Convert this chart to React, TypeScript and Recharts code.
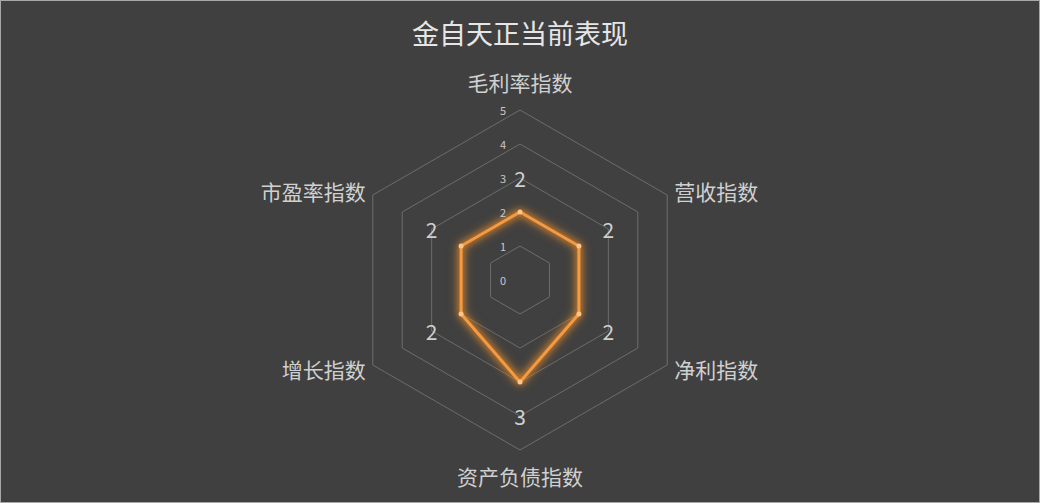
import React from "react";
import { RadarChart, Radar, PolarGrid, PolarAngleAxis, PolarRadiusAxis } from "recharts";

const indicators = ["毛利率指数", "营收指数", "净利指数", "资产负债指数", "增长指数", "市盈率指数"];
const scores = [2, 2, 2, 3, 2, 2];
const radiusTicks = [0, 1, 2, 3, 4, 5];
const title = "金自天正当前表现";

const data = indicators.map((name, i) => ({ name, value: scores[i] }));

const W = 1040;
const H = 503;
const CX = 520;
const CY = 280;
const R = 170;
const FONT = '"Noto Sans CJK SC", "Noto Sans", sans-serif';

const AngleTick = (props: any) => {
  const { x, y, payload, textAnchor } = props;
  let yy = y;
  const dx = x - CX;
  if (Math.abs(dx) < 2) {
    yy = y < CY ? y - 20 : y + 18;
  }
  return (
    <text
      x={x}
      y={yy}
      textAnchor={Math.abs(dx) < 2 ? "middle" : textAnchor}
      dominantBaseline="central"
      fill="#d0d0d0"
      fontSize={21}
      fontFamily={FONT}
    >
      {payload.value}
    </text>
  );
};

const RadiusTick = (props: any) => {
  const { x, y, payload } = props;
  return (
    <text
      x={x - 17}
      y={y}
      textAnchor="middle"
      dominantBaseline="central"
      fill="#c8c8c8"
      fontSize={11}
      fontFamily={FONT}
    >
      {payload.value}
    </text>
  );
};

const ValueLabel = (props: any) => {
  const { x, y, value } = props;
  const vx = x - CX;
  const vy = y - CY;
  const len = Math.sqrt(vx * vx + vy * vy) || 1;
  const lx = x + (vx / len) * 34;
  const ly = y + (vy / len) * 34;
  return (
    <text
      x={lx}
      y={ly}
      textAnchor="middle"
      dominantBaseline="central"
      fill="#d0d0d0"
      fontSize={21}
      fontFamily={FONT}
    >
      {value}
    </text>
  );
};

const RadarDot = (props: any) => {
  const { cx, cy } = props;
  return <circle cx={cx} cy={cy} r={2.5} fill="#ffc48a" stroke="none" />;
};

export default function App() {
  return (
    <div
      style={{
        position: "fixed",
        left: 0,
        top: 0,
        width: W,
        height: H,
        background: "#404040",
        boxSizing: "border-box",
        border: "1px solid #a8a8a8",
        overflow: "hidden",
      }}
    >
      <style>{`
        .recharts-radar-polygon { filter: drop-shadow(0 0 3px rgba(245,145,40,1)) drop-shadow(0 0 5px rgba(245,145,40,0.7)); }
      `}</style>
      <div
        style={{
          position: "absolute",
          left: 0,
          top: 14,
          width: W - 2,
          textAlign: "center",
          color: "#e6e6e6",
          fontSize: 27,
          lineHeight: "36px",
          fontFamily: FONT,
        }}
      >
        {title}
      </div>
      <div style={{ position: "absolute", left: -1, top: -1 }}>
        <RadarChart
          width={W}
          height={H}
          data={data}
          cx={CX}
          cy={CY}
          outerRadius={R}
          margin={{ top: 0, right: 0, bottom: 0, left: 0 }}
        >
          <PolarGrid gridType="polygon" radialLines={false} stroke="#6c6c6c" strokeWidth={1} />
          <PolarAngleAxis dataKey="name" tick={<AngleTick />} tickLine={false} axisLine={false} />
          <PolarRadiusAxis
            angle={90}
            domain={[0, 5]}
            ticks={radiusTicks as any}
            tickCount={6}
            tick={<RadiusTick />}
            axisLine={false}
            tickLine={false}
          />
          <Radar
            dataKey="value"
            stroke="#f59a40"
            strokeWidth={3}
            fill="none"
            fillOpacity={0}
            dot={<RadarDot />}
            label={<ValueLabel />}
            isAnimationActive={false}
          />
        </RadarChart>
      </div>
    </div>
  );
}
